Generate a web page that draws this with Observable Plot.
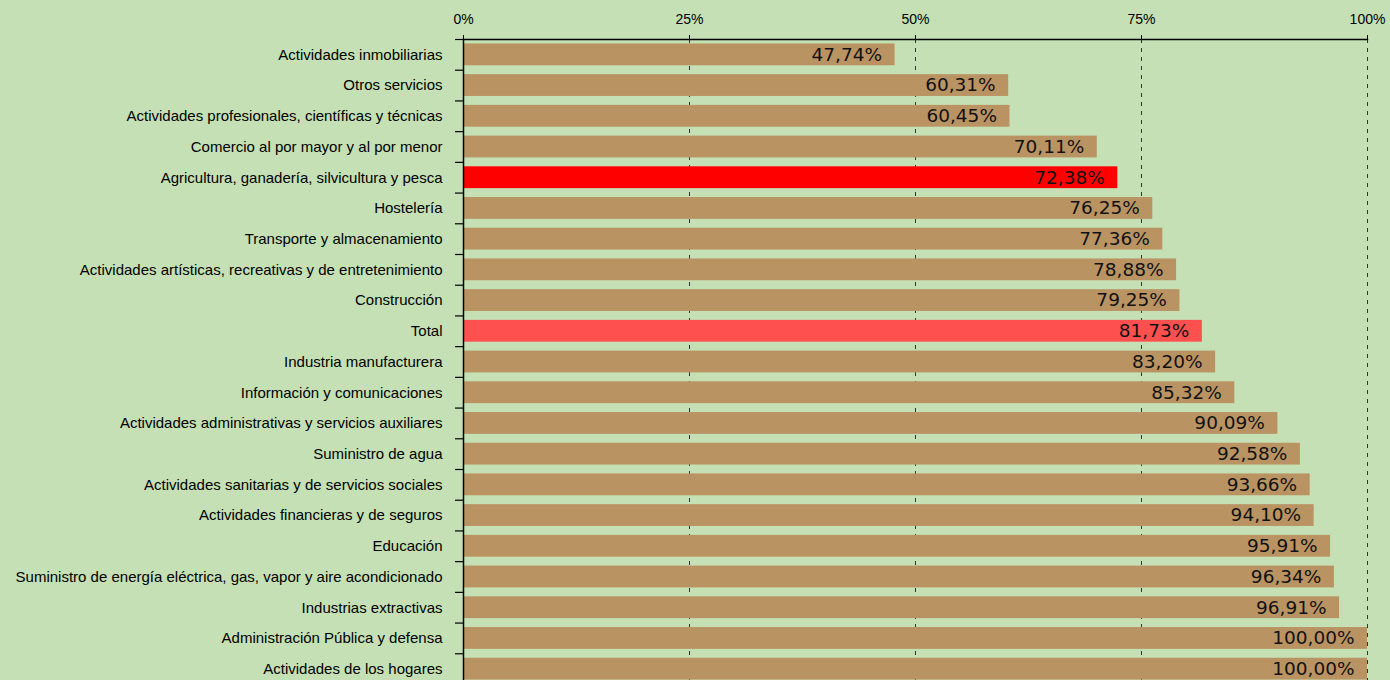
<!DOCTYPE html>
<html>
<head>
<meta charset="utf-8">
<script src="https://cdn.jsdelivr.net/npm/d3@7"></script>
<script src="https://cdn.jsdelivr.net/npm/@observablehq/plot@0.6"></script>
<style>
  html, body { margin: 0; padding: 0; background: #C5E0B4; overflow: hidden; }
  #chart svg { display: block; }
</style>
</head>
<body>
<div id="chart"></div>
<script>
const categories = [
  "Actividades inmobiliarias",
  "Otros servicios",
  "Actividades profesionales, científicas y técnicas",
  "Comercio al por mayor y al por menor",
  "Agricultura, ganadería, silvicultura y pesca",
  "Hostelería",
  "Transporte y almacenamiento",
  "Actividades artísticas, recreativas y de entretenimiento",
  "Construcción",
  "Total",
  "Industria manufacturera",
  "Información y comunicaciones",
  "Actividades administrativas y servicios auxiliares",
  "Suministro de agua",
  "Actividades sanitarias y de servicios sociales",
  "Actividades financieras y de seguros",
  "Educación",
  "Suministro de energía eléctrica, gas, vapor y aire acondicionado",
  "Industrias extractivas",
  "Administración Pública y defensa",
  "Actividades de los hogares"
];
const values = [47.74, 60.31, 60.45, 70.11, 72.38, 76.25, 77.36, 78.88, 79.25, 81.73,
  83.20, 85.32, 90.09, 92.58, 93.66, 94.10, 95.91, 96.34, 96.91, 100.00, 100.00];
const xTicks = [0, 25, 50, 75, 100];
const highlightAgri = "Agricultura, ganadería, silvicultura y pesca";
const highlightTotal = "Total";

const data = categories.map((c, i) => ({category: c, value: values[i]}));

const W = 1390, H = 684, mTop = 39, mBottom = 0, mLeft = 463, mRight = 23;
const step = (H - mTop - mBottom) / categories.length;

const barColor = d => d.category === highlightAgri ? "#FF0000"
  : d.category === highlightTotal ? "#FF5050" : "#BA9363";
const fmt = v => v.toFixed(2).replace(".", ",") + "%";

const chart = Plot.plot({
  width: W, height: H,
  marginTop: mTop, marginBottom: mBottom, marginLeft: mLeft, marginRight: mRight,
  style: {background: "#C5E0B4", color: "#000", overflow: "visible"},
  x: {domain: [0, 100]},
  y: {domain: categories, paddingInner: 0.29, paddingOuter: 0.145, round: false},
  marks: [
    Plot.ruleX(xTicks.slice(1), {stroke: "#333", strokeWidth: 1, strokeDasharray: "4,5"}),
    Plot.barX(data, {y: "category", x: "value", fill: barColor}),
    Plot.ruleX([0], {stroke: "#000", strokeWidth: 1.5}),
    Plot.ruleY(categories, {y: d => d, x1: 0, x2: 0, insetLeft: -8, dy: -step / 2, stroke: "#000", strokeWidth: 1.2}),
    Plot.frame({anchor: "top", stroke: "#000", strokeWidth: 1.5}),
    Plot.axisX({anchor: "top", ticks: xTicks, tickFormat: d => d + "%", tickSize: 5, tickPadding: 11,
      fontSize: 14, fontFamily: "Liberation Sans, Arial, sans-serif", label: null, stroke: "#000"}),
    Plot.axisY({tickSize: 0, tickPadding: 21, fontSize: 15, fontFamily: "Liberation Sans, Arial, sans-serif", label: null}),
    Plot.text(data, {y: "category", x: "value", text: d => fmt(d.value), textAnchor: "end", dx: -13,
      fontSize: 18.5, fontFamily: "DejaVu Sans, Verdana, sans-serif", fill: "#111"})
  ]
});
document.getElementById("chart").appendChild(chart);
</script>
</body>
</html>
